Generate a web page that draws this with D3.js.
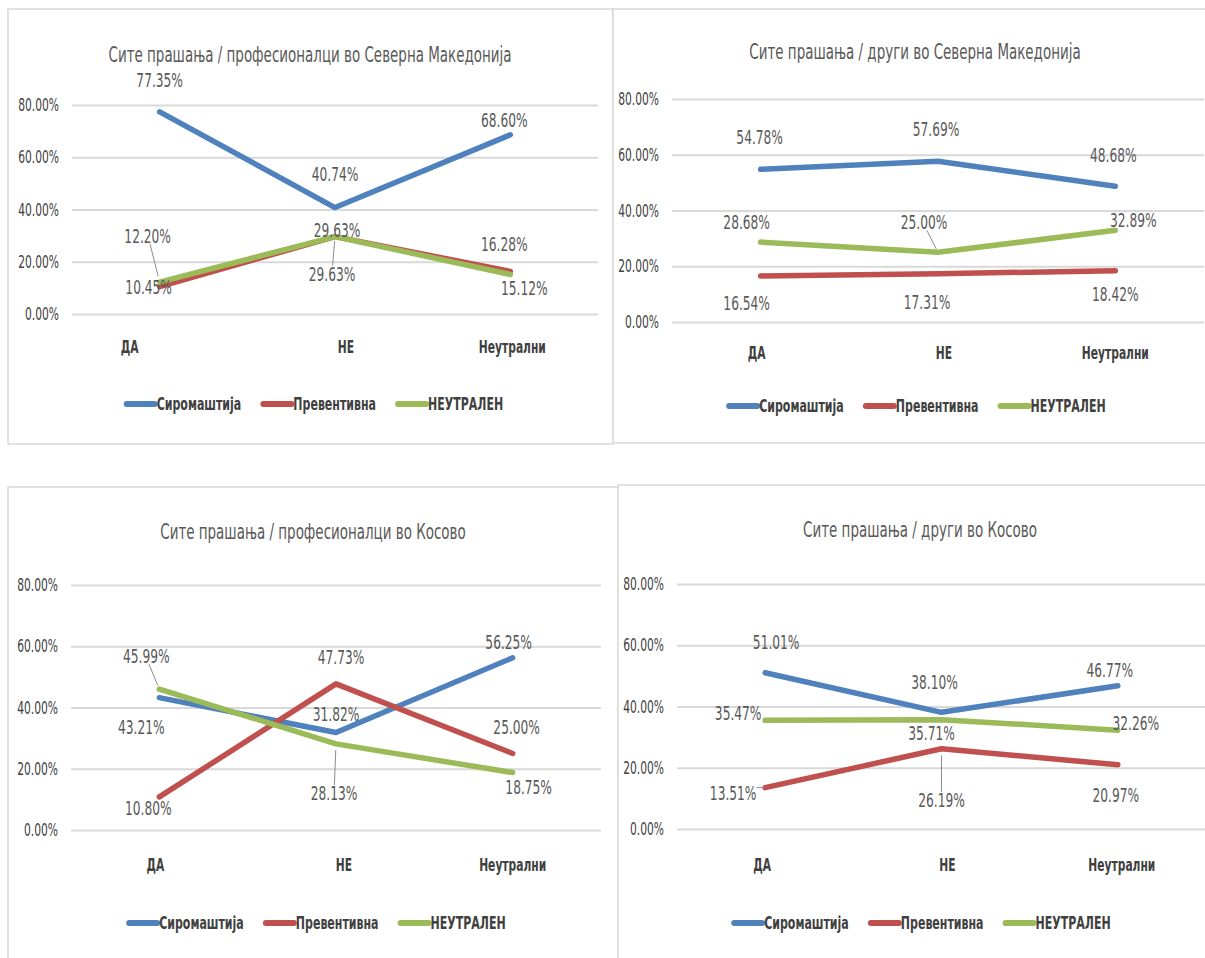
<!DOCTYPE html>
<html>
<head>
<meta charset="utf-8">
<script src="https://cdn.jsdelivr.net/npm/d3@7"></script>
<style>
  html, body { margin: 0; padding: 0; background: #fff; }
  text { font-family: "DejaVu Sans Condensed", "Liberation Sans Narrow", sans-serif; }
</style>
</head>
<body>
<script>
// categories + series
const categories = ["ДА", "НЕ", "Неутрални"];
const seriesNames = ["Сиромаштија", "Превентивна", "НЕУТРАЛЕН"];
const seriesColors = ["#4F81BD", "#C0504D", "#9BBB59"];
const yTicks = [0, 0.2, 0.4, 0.6, 0.8];

const titles = [
  "Сите прашања / професионалци во Северна Македонија",
  "Сите прашања / други во Северна Македонија",
  "Сите прашања / професионалци во Косово",
  "Сите прашања / други во Косово"
];

// values in percent, one row per series (Сиромаштија, Превентивна, НЕУТРАЛЕН)
const profMK  = [[77.35, 40.74, 68.60], [10.45, 29.63, 16.28], [12.20, 29.63, 15.12]];
const otherMK = [[54.78, 57.69, 48.68], [16.54, 17.31, 18.42], [28.68, 25.00, 32.89]];
const profKS  = [[43.21, 31.82, 56.25], [10.80, 47.73, 25.00], [45.99, 28.13, 18.75]];
const otherKS = [[51.01, 38.10, 46.77], [13.51, 26.19, 20.97], [35.47, 35.71, 32.26]];

// data label nudges [dx, dy, leader] relative to the point
const labelsProfMK  = [[[0,-32],[0,-34],[-6,-15]], [[-11,0],[2,-7],[-6,-27]], [[-12,-46,1],[-3,37,1],[14,13]]];
const labelsOtherMK = [[[-1,-32],[-2,-32],[-2,-31]], [[-14,27],[-11,28],[0,23]], [[-14,-20],[-14,-30,1],[18,-10]]];
const labelsProfKS  = [[[-18,29],[0,-19],[-4,-16]], [[-11,11],[5,-27],[4,-26]], [[-13,-33,1],[-2,49,1],[16,14]]];
const labelsOtherKS = [[[11,-31],[-7,-30],[-8,-16]], [[-32,5,1],[0,51,1],[-2,30]], [[-27,-7],[-10,13],[18,-7]]];

const panelData = [profMK, otherMK, profKS, otherKS];
const panelLabels = [labelsProfMK, labelsOtherMK, labelsProfKS, labelsOtherKS];

// frames and plot areas
const frames = [
  {x: 8,   y: 9,   w: 605, h: 435, px0: 72,  px1: 598,  yTop: 105, yBot: 314, titleX: 310, titleY: 54,  catY: 347, legY: 404, catNudge: [-30, 11, 2]},
  {x: 613, y: 9,   w: 600, h: 434, px0: 672, px1: 1204, yTop: 99,  yBot: 322, titleX: 915, titleY: 51,  catY: 353, legY: 406, catNudge: [-4, 6, 0]},
  {x: 8,   y: 487, w: 610, h: 480, px0: 71,  px1: 601,  yTop: 585, yBot: 830, titleX: 313, titleY: 531, catY: 865, legY: 923, catNudge: [-4, 8, 0]},
  {x: 618, y: 485, w: 600, h: 480, px0: 677, px1: 1206, yTop: 584, yBot: 829, titleX: 920, titleY: 529, catY: 865, legY: 923, catNudge: [-3, 6, 4]}
];

const SX = 0.68; // horizontal squeeze of the text

// move x/y into a transform and squeeze horizontally around the anchor
function squeeze(sel) {
  sel.each(function() {
    const t = d3.select(this);
    const x = +t.attr("x") || 0, y = +t.attr("y") || 0;
    t.attr("x", 0).attr("y", 0)
     .attr("transform", `translate(${x},${y}) scale(${SX},1)`);
  });
}

const svg = d3.select("body").append("svg")
  .attr("width", 1205)
  .attr("height", 958);

frames.forEach((f, pi) => {
  const g = svg.append("g");

  g.append("rect")
    .attr("x", f.x).attr("y", f.y)
    .attr("width", f.w).attr("height", f.h)
    .attr("fill", "#fff")
    .attr("stroke", "#D9D9D9")
    .attr("stroke-width", 1.5);

  const x = d3.scaleBand().domain(categories).range([f.px0, f.px1]);
  const y = d3.scaleLinear().domain([0, 0.8]).range([f.yBot, f.yTop]);

  // title
  g.append("text")
    .attr("x", f.titleX).attr("y", f.titleY)
    .attr("dy", "0.35em")
    .attr("text-anchor", "middle")
    .attr("font-size", 22)
    .attr("fill", "#595959")
    .text(titles[pi])
    .call(squeeze);

  // y axis with gridlines
  const yAxis = g.append("g")
    .attr("transform", `translate(${f.px0},0)`)
    .call(d3.axisLeft(y).tickValues(yTicks)
      .tickFormat(d => (d * 100).toFixed(2) + "%")
      .tickSize(-(f.px1 - f.px0)).tickPadding(13));
  yAxis.select(".domain").remove();
  yAxis.attr("font-family", null);
  yAxis.selectAll(".tick line").attr("stroke", "#D9D9D9").attr("stroke-width", 2);
  yAxis.selectAll(".tick text")
    .attr("font-size", 17.5)
    .attr("fill", "#404040")
    .call(squeeze);

  // x category labels
  const xAxis = g.append("g")
    .attr("transform", `translate(0,${f.catY})`)
    .call(d3.axisBottom(x).tickSize(0).tickPadding(0));
  xAxis.select(".domain").remove();
  xAxis.attr("font-family", null);
  xAxis.selectAll(".tick text")
    .attr("x", (d, i) => f.catNudge[i])
    .attr("dy", "0.35em")
    .attr("font-size", 17.5)
    .attr("font-weight", "bold")
    .attr("fill", "#404040")
    .call(squeeze);

  const cx = c => x(c) + x.bandwidth() / 2;
  const line = d3.line()
    .x((d, i) => cx(categories[i]))
    .y(d => y(d / 100));

  const values = panelData[pi];

  values.forEach((vals, si) => {
    g.append("path")
      .datum(vals)
      .attr("d", line)
      .attr("fill", "none")
      .attr("stroke", seriesColors[si])
      .attr("stroke-width", 5.5)
      .attr("stroke-linecap", "round")
      .attr("stroke-linejoin", "round");
  });

  // data labels
  values.forEach((vals, si) => {
    vals.forEach((v, ci) => {
      const off = panelLabels[pi][si][ci];
      const px = cx(categories[ci]), py = y(v / 100);
      const lx = px + off[0], ly = py + off[1];
      const t = g.append("text")
        .attr("x", lx).attr("y", ly)
        .attr("dy", "0.35em")
        .attr("text-anchor", "middle")
        .attr("font-size", 20)
        .attr("fill", "#595959")
        .text(v.toFixed(2) + "%");
      const w = t.node().getComputedTextLength() * SX;
      t.call(squeeze);
      if (off[2]) {
        const bx0 = lx - w / 2, bx1 = lx + w / 2, by0 = ly - 8, by1 = ly + 8;
        let sx = Math.max(bx0, Math.min(px, bx1));
        let sy = Math.max(by0, Math.min(py, by1));
        if (sx === px || Math.abs(off[0]) < 20) sx = lx + (px - lx) * 0.2;
        const ex = sx + (px - sx) * 0.85, ey = sy + (py - sy) * 0.85;
        g.append("line")
          .attr("x1", sx).attr("y1", sy)
          .attr("x2", ex).attr("y2", ey)
          .attr("stroke", "#8c8c8c")
          .attr("stroke-width", 1);
      }
    });
  });

  // legend
  const leg = g.append("g");
  let lx = 0;
  seriesNames.forEach((name, si) => {
    const it = leg.append("g").attr("transform", `translate(${lx},0)`);
    it.append("line")
      .attr("x1", 3).attr("x2", 31)
      .attr("y1", 0).attr("y2", 0)
      .attr("stroke", seriesColors[si])
      .attr("stroke-width", 6)
      .attr("stroke-linecap", "round");
    const t = it.append("text")
      .attr("x", 33).attr("dy", "0.35em")
      .attr("font-size", 18)
      .attr("font-weight", "bold")
      .attr("fill", "#404040")
      .text(name);
    const w = t.node().getComputedTextLength() * SX;
    t.call(squeeze);
    lx += 33 + w + 19;
  });
  const legW = lx - 19;
  leg.attr("transform", `translate(${f.x + f.w / 2 - legW / 2 + 3},${f.legY})`);
});
</script>
</body>
</html>
